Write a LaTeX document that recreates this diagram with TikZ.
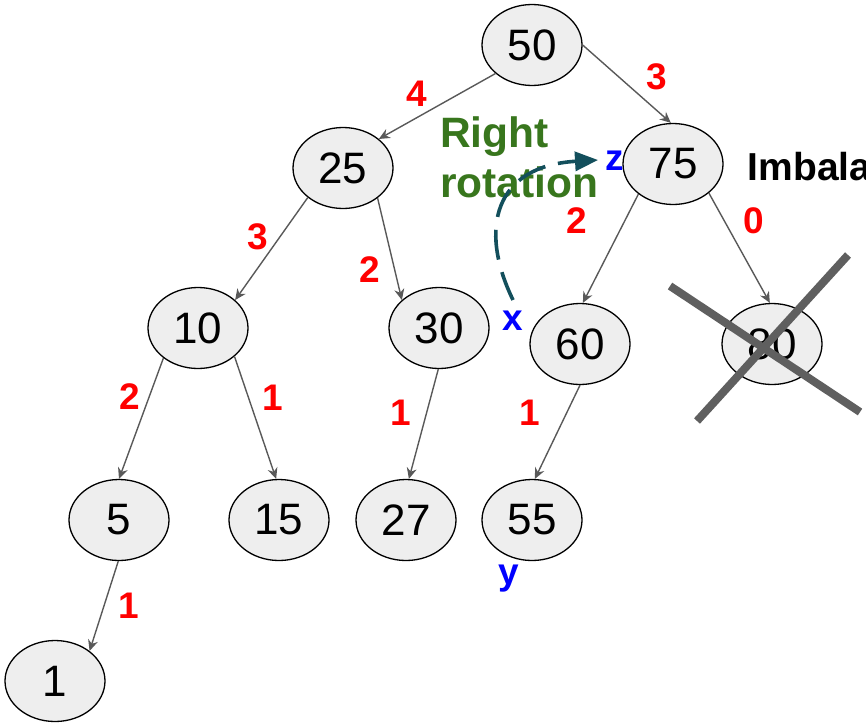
\documentclass[tikz,border=0pt]{standalone}
\usepackage{fontspec}
\setmainfont{Liberation Sans}
\usetikzlibrary{arrows.meta,shapes.geometric}
\definecolor{nodefill}{HTML}{EEEEEE}
\definecolor{edgegray}{HTML}{595959}
\definecolor{crossgray}{HTML}{5F5F5F}
\definecolor{rotgreen}{HTML}{38761D}
\definecolor{rotteal}{HTML}{134F5C}
\begin{document}
\begin{tikzpicture}[x=1pt,y=-1pt,
  treenode/.style={ellipse, draw=black, line width=1.3pt, fill=nodefill,
    minimum width=100pt, minimum height=81pt, inner sep=0pt,
    font=\fontsize{44pt}{44pt}\selectfont},
  edge/.style={draw=edgegray, line width=1.4pt, -{Stealth[length=11pt,width=10pt]}},
  hlabel/.style={text=red, font=\fontsize{37pt}{37pt}\selectfont\bfseries, inner sep=0pt},
  letter/.style={text=blue, font=\fontsize{37pt}{37pt}\selectfont\bfseries, inner sep=0pt, anchor=base},
  crossline/.style={draw=crossgray, line width=8pt},
  rotarrow/.style={draw=rotteal, line width=3.6pt, dash pattern=on 30pt off 13pt,
    -{Triangle[length=23pt,width=19pt]}},
]
\useasboundingbox (0,0) rectangle (866,725);

% tree nodes
\node[treenode] (n50) at (532,45) {50};
\node[treenode] (n25) at (343,168) {25};
\node[treenode] (n75) at (673,164) {75};
\node[treenode] (n10) at (198,328) {10};
\node[treenode] (n30) at (439,328) {30};
\node[treenode] (n60) at (580,344) {60};
\node[treenode] (n80) at (772,344) {80};
\node[treenode] (n5)  at (119,520) {5};
\node[treenode] (n15) at (279,520) {15};
\node[treenode] (n27) at (406,520) {27};
\node[treenode] (n55) at (532,520) {55};
\node[treenode] (n1)  at (55,681)  {1};

% edges
\draw[edge] (n50.-142) -- (n25.39);
\draw[edge] (n50.0)    -- (n75.93);
\draw[edge] (n25.-140) -- (n10.37);
\draw[edge] (n25.-41)  -- (n30.143);
\draw[edge] (n75.-139) -- (n60.86);
\draw[edge] (n75.-39)  -- (n80.93);
\draw[edge] (n10.-139) -- (n5.90);
\draw[edge] (n10.-38)  -- (n15.94);
\draw[edge] (n30.-91)  -- (n27.86);
\draw[edge] (n60.-90)  -- (n55.86);
\draw[edge] (n5.-91)   -- (n1.41);

% height labels
\node[hlabel] (h50a) at (417,94)  {4};
\node[hlabel] (h50b) at (657,77)  {3};
\node[hlabel] (h25a) at (258,237) {3};
\node[hlabel] (h25b) at (370,270) {2};
\node[hlabel] (h75a) at (577,221) {2};
\node[hlabel] (h75b) at (754,221) {0};
\node[hlabel] (h10a) at (130,397) {2};
\node[hlabel] (h10b) at (273,398) {1};
\node[hlabel] (h30a) at (401,413) {1};
\node[hlabel] (h60a) at (530,413) {1};
\node[hlabel] (h5a)  at (129,606) {1};

% x, y, z labels
\node[letter] (lz) at (615,170) {z};
\node[letter] (lx) at (513,330) {x};
\node[letter] (ly) at (509,584) {y};

% rotation text
\node[text=rotgreen, anchor=north west, inner sep=0pt, align=left,
  font=\fontsize{42.5pt}{50pt}\selectfont\bfseries] (rot) at (440,117) {Right\\rotation};

% imbalance text (cut at the right edge, as in the reference)
\node[anchor=base west, inner sep=0pt, font=\fontsize{39pt}{39pt}\selectfont\bfseries] (imb) at (747.5,180) {Imbala};

% dashed rotation arrow
\coordinate (rs) at (513,300);
\coordinate (re) at (598,160);
\draw[rotarrow] (rs) .. controls (478,228) and (495,166) .. (re);

% cross over 80
\coordinate (c1a) at (670,286);
\coordinate (c1b) at (860,412);
\coordinate (c2a) at (848,255);
\coordinate (c2b) at (697,421);
\draw[crossline] (c1a) -- (c1b);
\draw[crossline] (c2a) -- (c2b);
\end{tikzpicture}
\end{document}
